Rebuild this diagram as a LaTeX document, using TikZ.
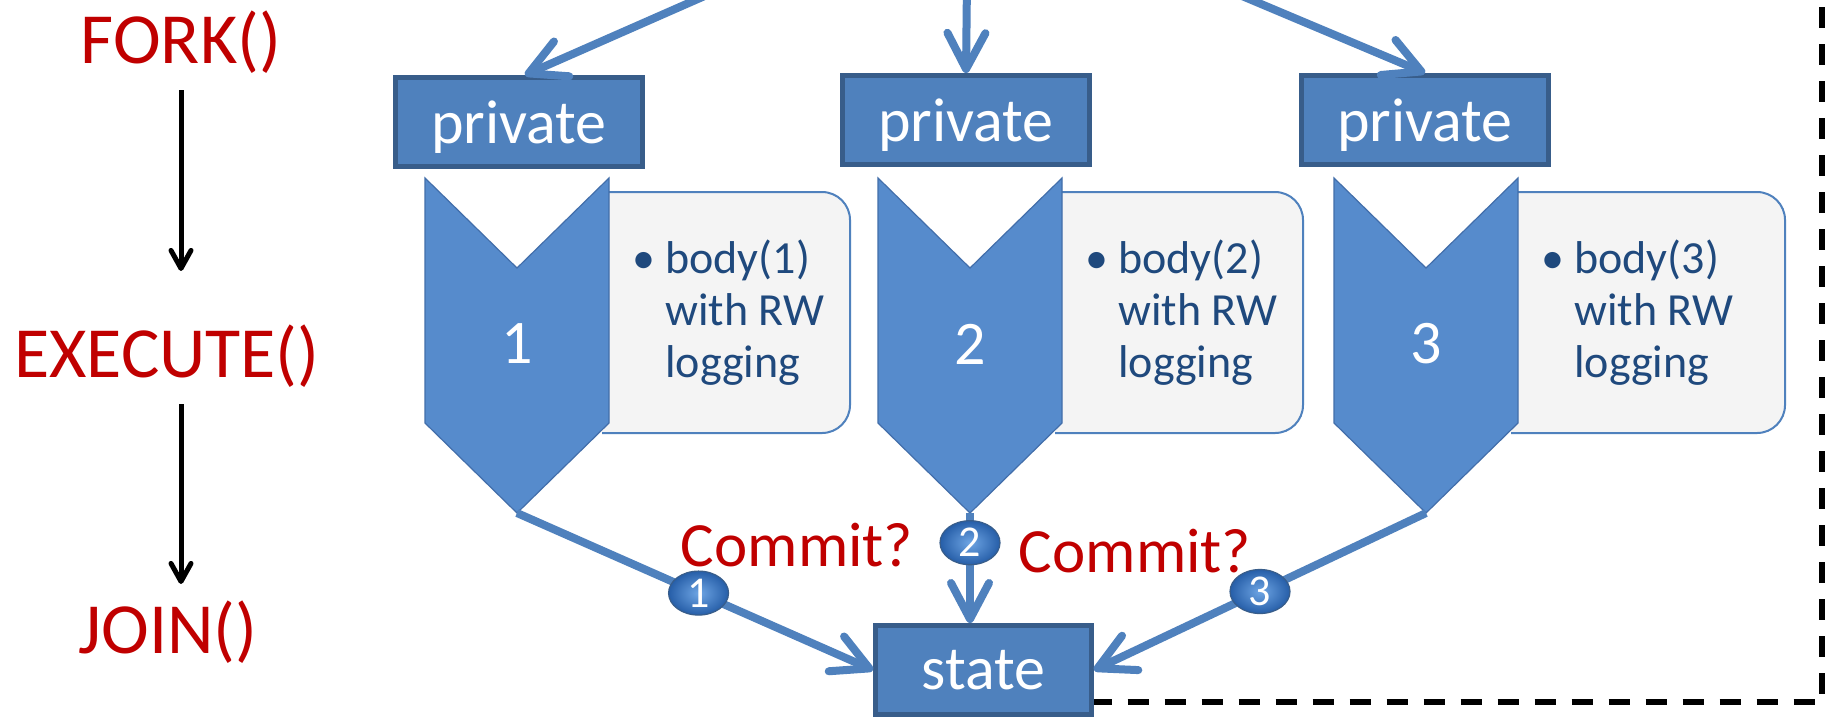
\documentclass[tikz,border=0pt]{standalone}
\usepackage{fontspec}
\setmainfont{Carlito}
\usetikzlibrary{arrows.meta, calc, shapes.geometric, backgrounds}
\definecolor{phasered}{RGB}{192,0,0}
\definecolor{storeblue}{RGB}{79,129,189}
\definecolor{storeedge}{RGB}{56,93,138}
\definecolor{chevblue}{RGB}{86,139,204}
\definecolor{chevedge}{RGB}{66,110,170}
\definecolor{bodyfill}{RGB}{244,244,244}
\definecolor{bodyink}{RGB}{31,73,125}
\definecolor{badgelight}{RGB}{110,165,228}
\definecolor{badgedark}{RGB}{38,94,168}

\begin{document}
\begin{tikzpicture}[
  x=0.5pt, y=-0.5pt,
  phase/.style={inner sep=0pt, anchor=base, text=phasered,
    font=\fontsize{36}{40}\selectfont},
  phasearr/.style={line width=2.5pt, -{Straight Barb[length=9pt, width=10pt, round]}},
  ask/.style={inner sep=0pt, anchor=base, text=phasered,
    font=\fontsize{31.5}{36}\selectfont},
  store/.style={rectangle, draw=storeedge, fill=storeblue, line width=2.5pt,
    minimum width=123.5pt, minimum height=44.5pt, text depth=0pt,
    text=white, font=\fontsize{31}{36}\selectfont},
  chevnum/.style={inner sep=0pt, text=white, font=\fontsize{31}{36}\selectfont},
  chev/.style={fill=chevblue, draw=chevedge, line width=0.6pt},
  bodybox/.style={fill=bodyfill, draw=storeblue, line width=1pt, rounded corners=14pt},
  bodytxt/.style={inner sep=0pt, anchor=north west, align=left, text=bodyink,
    font=\fontsize{23}{26}\selectfont},
  badge/.style={ellipse, inner color=badgelight, outer color=badgedark,
    draw=storeedge, line width=0.6pt,
    minimum width=30pt, minimum height=22pt, inner sep=0pt, text=white,
    font=\fontsize{22}{24}\selectfont},
  flow/.style={draw=storeblue, line width=4pt,
    -{Straight Barb[length=18pt, width=19pt, round]}},
  rim/.style={line width=3.25pt, dash pattern=on 10.5pt off 8pt, dash phase=2pt},
]
  \useasboundingbox (0,0) rectangle (1829,719);
  \clip (0,0) rectangle (1829,719);

  % Phases
  \node[phase] (forkl) at (181,63) {FORK()};
  \node[phase] (execl) at (167,377) {EXECUTE()};
  \node[phase] (joinl) at (168,653) {JOIN()};
  \draw[phasearr, shorten <=8.5pt, shorten >=26.5pt] (forkl.south) -- (forkl.south |- execl.north);
  \draw[phasearr, shorten <=8.5pt, shorten >=8pt] (execl.south -| forkl) -- (joinl.north -| forkl);

  % Private copies
  \node[store] (priv1) at (519,122) {private};
  \node[store] (priv2) at (966,120) {private};
  \node[store] (priv3) at (1425,120) {private};

  \coordinate (src1) at (741,-20);
  \coordinate (src2) at (967,-20);
  \coordinate (src3) at (1204,-20);
  \draw[flow] (src1) -- ([xshift=3pt]priv1.north);
  \draw[flow] (src2) -- (priv2.north);
  \draw[flow] (src3) -- (priv3.north);

  % Bodies
  \foreach \i/\cx/\rx in {1/517/850, 2/970/1303, 3/1426/1785} {
    \filldraw[bodybox] (\cx+85,192) -- (\rx,192) -- (\rx,433) -- (\cx+85,433);
    \node[bodytxt] (body\i) at (\cx+115,239)
      {\makebox[16.5pt][l]{\textbullet}body(\i)\\
       \hspace*{16.5pt}with RW\\
       \hspace*{16.5pt}logging};
    \filldraw[chev] (\cx-92,178) -- (\cx,268) -- (\cx+92,178) -- (\cx+92,423)
      -- (\cx,513) -- (\cx-92,423) -- cycle;
    \node[chevnum] (chev\i) at (\cx,344) {\i};
    \coordinate (tip\i) at (\cx,513);
  }

  % Commit
  \node[store, minimum width=108pt] (state) at (983.5,670) {state};
  \draw[flow] (tip1) -- node[badge, pos=0.51] (badge1) {1} (state.west);
  \draw[flow] (tip2) -- node[badge, pos=0.27] (badge2) {2} (tip2 |- state.north);
  \draw[flow] (tip3) -- node[badge, pos=0.5] (badge3) {3} (state.east);
  \node[ask] (ask1) at (797,566) {Commit?};
  \node[ask] (ask2) at (1135,572) {Commit?};

  \coordinate (rimSE) at (1822,702);
  \coordinate (rimNE) at (1822,-10);
  \begin{scope}[on background layer]
    \fill[white] (0,0) rectangle (1829,719);
    \draw[rim] (state.center |- rimSE) -- (rimSE) -- (rimNE);
  \end{scope}
\end{tikzpicture}
\end{document}
